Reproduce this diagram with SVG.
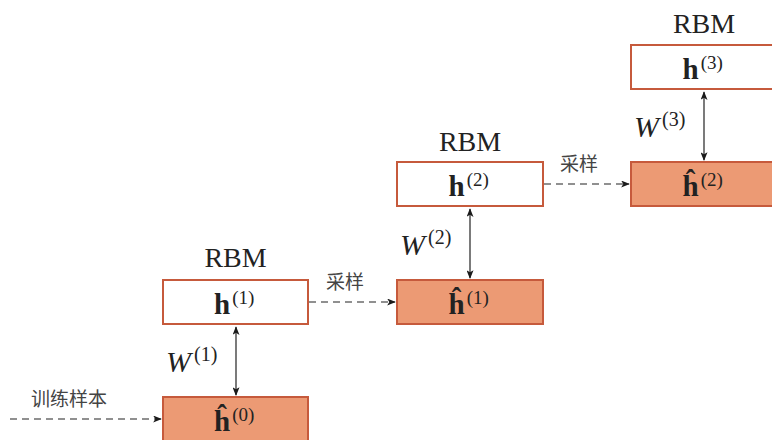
<svg xmlns="http://www.w3.org/2000/svg" width="772" height="440" viewBox="0 0 772 440">
  <defs>
    <marker id="tip" viewBox="0 0 10 8" refX="9" refY="4" markerWidth="9" markerHeight="7" markerUnits="userSpaceOnUse" orient="auto-start-reverse">
      <path d="M0,0 L10,4 L0,8 L2.5,4 z" fill="#1a1a1a"/>
    </marker>
  </defs>
  <style>
    .box { stroke: #c65a3c; stroke-width: 2; }
    .vis { fill: #ffffff; }
    .hid { fill: #ec9a74; }
    .title { font-family: "Liberation Serif", "DejaVu Serif", serif; font-size: 28px; fill: #222; text-anchor: middle; }
    .h { font-family: "Liberation Serif", "DejaVu Serif", serif; font-weight: bold; font-size: 29px; fill: #222; }
    .sup { font-weight: normal; font-size: 19px; }
    .w { font-family: "Liberation Serif", "DejaVu Serif", serif; font-style: italic; font-size: 30px; fill: #222; }
    .wsup { font-style: normal; font-size: 20px; }
    .cjk { font-family: "Noto Sans CJK SC", "Noto Sans", sans-serif; font-size: 19px; fill: #444; text-anchor: middle; }
    .dash { stroke: #222; stroke-width: 1.2; stroke-dasharray: 7 5; fill: none; marker-end: url(#tip); }
    .link { stroke: #222; stroke-width: 1.2; fill: none; marker-start: url(#tip); marker-end: url(#tip); }
  </style>

  <!-- connectors and their labels -->
  <g id="connectors">
    <line class="dash" x1="10" y1="419" x2="161" y2="419"/>
    <line class="dash" x1="309" y1="302" x2="395" y2="302"/>
    <line class="dash" x1="544" y1="184" x2="629" y2="184"/>
    <line class="link" x1="236" y1="327" x2="236" y2="395"/>
    <line class="link" x1="470" y1="209" x2="470" y2="278"/>
    <line class="link" x1="704" y1="92" x2="704" y2="160"/>
    <text class="cjk" x="69" y="406">训练样本</text>
    <text class="cjk" x="345" y="289">采样</text>
    <text class="cjk" x="579" y="171">采样</text>
    <text class="w" x="166" y="372">W<tspan class="wsup" dx="3" dy="-11">(1)</tspan></text>
    <text class="w" x="400" y="255">W<tspan class="wsup" dx="3" dy="-11">(2)</tspan></text>
    <text class="w" x="634" y="137">W<tspan class="wsup" dx="3" dy="-11">(3)</tspan></text>
  </g>

  <!-- stage 1 -->
  <g id="rbm1-hidden">
    <text class="title" x="235.5" y="267">RBM</text>
    <rect class="box vis" x="163" y="280" width="145" height="44"/>
    <text class="h" x="214" y="314">h<tspan class="sup" dx="2" dy="-10">(1)</tspan></text>
  </g>
  <g id="rbm1-visible">
    <rect class="box hid" x="163" y="397" width="145" height="46"/>
    <text class="h" x="214" y="431">ĥ<tspan class="sup" dx="2" dy="-10">(0)</tspan></text>
  </g>

  <!-- stage 2 -->
  <g id="rbm2-hidden">
    <text class="title" x="470" y="151">RBM</text>
    <rect class="box vis" x="397" y="162" width="146" height="44"/>
    <text class="h" x="448.5" y="196">h<tspan class="sup" dx="2" dy="-10">(2)</tspan></text>
  </g>
  <g id="rbm2-visible">
    <rect class="box hid" x="397" y="280" width="146" height="44"/>
    <text class="h" x="448.5" y="314">ĥ<tspan class="sup" dx="2" dy="-10">(1)</tspan></text>
  </g>

  <!-- stage 3 -->
  <g id="rbm3-hidden">
    <text class="title" x="704" y="33">RBM</text>
    <rect class="box vis" x="631" y="45" width="150" height="44"/>
    <text class="h" x="682.5" y="79">h<tspan class="sup" dx="2" dy="-10">(3)</tspan></text>
  </g>
  <g id="rbm3-visible">
    <rect class="box hid" x="631" y="162" width="150" height="44"/>
    <text class="h" x="682.5" y="196">ĥ<tspan class="sup" dx="2" dy="-10">(2)</tspan></text>
  </g>
</svg>
